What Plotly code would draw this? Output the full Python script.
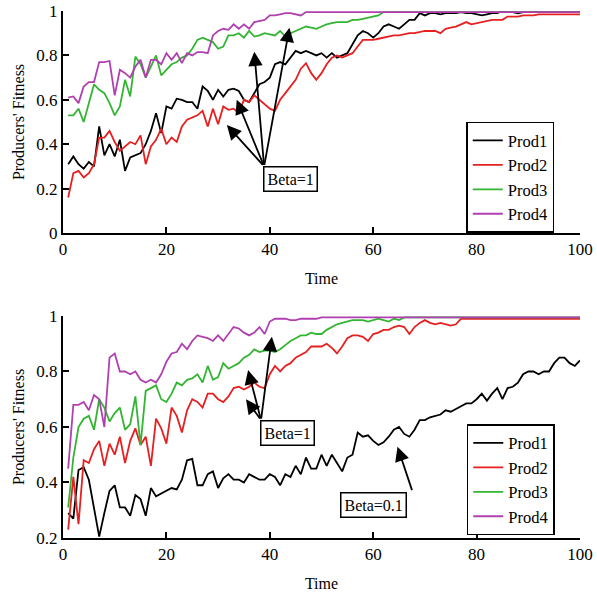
import plotly.graph_objects as go

# Time steps
time = list(range(1, 101))

# ---- Upper panel: Beta = 1 for every producer ----
top_prod1 = [0.31, 0.345, 0.31, 0.29, 0.32, 0.30, 0.48, 0.35, 0.40, 0.345,
             0.42, 0.28, 0.34, 0.35, 0.36, 0.40, 0.46, 0.54, 0.45, 0.57,
             0.56, 0.605, 0.60, 0.59, 0.59, 0.56, 0.66, 0.64, 0.60, 0.645,
             0.615, 0.645, 0.65, 0.64, 0.60, 0.59, 0.63, 0.67, 0.68, 0.70,
             0.76, 0.77, 0.76, 0.79, 0.82, 0.81, 0.82, 0.81, 0.80, 0.81,
             0.79, 0.81, 0.79, 0.80, 0.81, 0.85, 0.89, 0.91, 0.90, 0.88,
             0.90, 0.93, 0.94, 0.93, 0.92, 0.94, 0.96, 0.96, 0.99, 0.98,
             0.99, 0.99, 0.985, 0.99, 0.99, 0.99, 0.995, 0.99, 0.99, 0.985,
             0.98, 0.985, 0.99, 0.99, 1.0, 0.995, 0.995, 0.99, 0.995, 0.995,
             0.995, 0.995, 0.995, 0.995, 0.995, 0.995, 0.995, 0.995, 0.995, 0.995]
top_prod2 = [0.16, 0.27, 0.28, 0.25, 0.27, 0.31, 0.43, 0.43, 0.46, 0.41,
             0.37, 0.39, 0.41, 0.40, 0.44, 0.31, 0.39, 0.42, 0.47, 0.40,
             0.43, 0.41, 0.48, 0.51, 0.52, 0.53, 0.55, 0.48, 0.56, 0.49,
             0.57, 0.555, 0.56, 0.54, 0.60, 0.59, 0.62, 0.60, 0.58, 0.56,
             0.55, 0.60, 0.63, 0.66, 0.69, 0.74, 0.765, 0.72, 0.69, 0.72,
             0.76, 0.79, 0.80, 0.79, 0.80, 0.81, 0.84, 0.87, 0.87, 0.87,
             0.875, 0.88, 0.885, 0.89, 0.89, 0.895, 0.90, 0.90, 0.905, 0.91,
             0.91, 0.91, 0.90, 0.92, 0.925, 0.93, 0.94, 0.95, 0.94, 0.945,
             0.95, 0.955, 0.96, 0.96, 0.96, 0.975, 0.975, 0.975, 0.98, 0.98,
             0.98, 0.985, 0.985, 0.985, 0.985, 0.985, 0.985, 0.985, 0.985, 0.985]
top_prod3 = [0.53, 0.53, 0.56, 0.50, 0.585, 0.67, 0.645, 0.63, 0.585, 0.53,
             0.57, 0.69, 0.615, 0.795, 0.76, 0.70, 0.75, 0.80, 0.71, 0.735,
             0.76, 0.77, 0.79, 0.80, 0.83, 0.87, 0.88, 0.87, 0.86, 0.83,
             0.84, 0.89, 0.89, 0.90, 0.88, 0.91, 0.885, 0.89, 0.90, 0.895,
             0.89, 0.91, 0.885, 0.90, 0.91, 0.92, 0.93, 0.925, 0.92, 0.93,
             0.94, 0.945, 0.95, 0.95, 0.95, 0.96, 0.96, 0.965, 0.97, 0.975,
             0.98, 0.995, 0.995, 0.995, 0.995, 0.995, 0.995, 0.995, 0.995, 0.995,
             0.995, 0.995, 0.995, 0.995, 0.995, 0.995, 0.995, 0.995, 0.995, 0.995,
             0.995, 0.995, 0.995, 0.995, 0.995, 0.995, 0.995, 0.995, 0.995, 0.995,
             0.995, 0.995, 0.995, 0.995, 0.995, 0.995, 0.995, 0.995, 0.995, 0.995]
top_prod4 = [0.61, 0.615, 0.585, 0.66, 0.68, 0.68, 0.77, 0.77, 0.775, 0.62,
             0.735, 0.72, 0.70, 0.75, 0.78, 0.70, 0.78, 0.78, 0.76, 0.81,
             0.78, 0.81, 0.765, 0.81, 0.80, 0.815, 0.815, 0.81, 0.89, 0.91,
             0.92, 0.915, 0.94, 0.92, 0.94, 0.92, 0.95, 0.955, 0.96, 0.98,
             0.98, 0.985, 0.99, 0.99, 0.985, 0.98, 0.995, 0.995, 0.995, 0.995,
             0.995, 0.995, 0.995, 0.995, 0.995, 0.995, 0.995, 0.995, 0.995, 0.995,
             0.995, 0.995, 0.995, 0.995, 0.995, 0.995, 0.995, 0.995, 0.995, 0.995,
             0.995, 0.995, 0.995, 0.995, 0.995, 0.995, 0.995, 0.995, 0.995, 0.995,
             0.995, 0.995, 0.995, 0.995, 0.995, 0.995, 0.995, 0.995, 0.995, 0.995,
             0.995, 0.995, 0.995, 0.995, 0.995, 0.995, 0.995, 0.995, 0.995, 0.995]

# ---- Lower panel: Prod1 with Beta = 0.1, the others with Beta = 1 ----
bot_prod1 = [0.29, 0.27, 0.445, 0.455, 0.41, 0.31, 0.205, 0.29, 0.37, 0.39,
             0.31, 0.31, 0.28, 0.355, 0.34, 0.28, 0.38, 0.35, 0.36, 0.37,
             0.38, 0.375, 0.41, 0.48, 0.485, 0.39, 0.39, 0.43, 0.44, 0.38,
             0.415, 0.43, 0.41, 0.41, 0.40, 0.43, 0.42, 0.41, 0.41, 0.43,
             0.42, 0.39, 0.43, 0.42, 0.46, 0.43, 0.49, 0.45, 0.45, 0.50,
             0.46, 0.50, 0.47, 0.44, 0.49, 0.50, 0.58, 0.565, 0.57, 0.55,
             0.535, 0.545, 0.565, 0.59, 0.60, 0.575, 0.565, 0.59, 0.625, 0.625,
             0.635, 0.64, 0.645, 0.66, 0.655, 0.665, 0.675, 0.685, 0.685, 0.70,
             0.72, 0.695, 0.72, 0.74, 0.70, 0.74, 0.745, 0.76, 0.79, 0.80,
             0.80, 0.79, 0.80, 0.80, 0.83, 0.85, 0.85, 0.83, 0.82, 0.84]
bot_prod2 = [0.23, 0.42, 0.25, 0.48, 0.47, 0.52, 0.55, 0.46, 0.54, 0.50,
             0.565, 0.47, 0.55, 0.595, 0.535, 0.565, 0.46, 0.63, 0.595, 0.54,
             0.67, 0.64, 0.58, 0.66, 0.70, 0.69, 0.67, 0.72, 0.72, 0.70,
             0.69, 0.71, 0.74, 0.745, 0.735, 0.745, 0.76, 0.745, 0.74, 0.79,
             0.82, 0.80, 0.82, 0.83, 0.85, 0.86, 0.87, 0.89, 0.89, 0.89,
             0.90, 0.885, 0.865, 0.89, 0.92, 0.93, 0.93, 0.925, 0.91, 0.935,
             0.94, 0.95, 0.95, 0.96, 0.965, 0.96, 0.935, 0.96, 0.975, 0.985,
             0.975, 0.97, 0.975, 0.97, 0.965, 0.97, 0.99, 0.99, 0.99, 0.99,
             0.99, 0.99, 0.99, 0.99, 0.99, 0.99, 0.99, 0.99, 0.99, 0.99,
             0.99, 0.99, 0.99, 0.99, 0.99, 0.99, 0.99, 0.99, 0.99, 0.99]
bot_prod3 = [0.31, 0.49, 0.60, 0.63, 0.64, 0.59, 0.70, 0.67, 0.62, 0.65,
             0.67, 0.59, 0.61, 0.71, 0.535, 0.73, 0.74, 0.75, 0.70, 0.69,
             0.72, 0.76, 0.75, 0.77, 0.775, 0.79, 0.76, 0.82, 0.77, 0.78,
             0.83, 0.81, 0.82, 0.83, 0.85, 0.86, 0.88, 0.87, 0.875, 0.875,
             0.87, 0.88, 0.895, 0.91, 0.92, 0.93, 0.93, 0.94, 0.935, 0.935,
             0.95, 0.96, 0.97, 0.975, 0.98, 0.985, 0.985, 0.985, 0.98, 0.985,
             0.99, 0.985, 0.98, 0.99, 0.985, 0.995, 0.995, 0.995, 0.995, 0.995,
             0.995, 0.995, 0.995, 0.995, 0.995, 0.995, 0.995, 0.995, 0.995, 0.995,
             0.995, 0.995, 0.995, 0.995, 0.995, 0.995, 0.995, 0.995, 0.995, 0.995,
             0.995, 0.995, 0.995, 0.995, 0.995, 0.995, 0.995, 0.995, 0.995, 0.995]
bot_prod4 = [0.45, 0.68, 0.68, 0.69, 0.66, 0.715, 0.70, 0.60, 0.85, 0.865,
             0.80, 0.80, 0.79, 0.80, 0.77, 0.76, 0.77, 0.76, 0.79, 0.835,
             0.865, 0.87, 0.90, 0.88, 0.91, 0.93, 0.925, 0.92, 0.91, 0.93,
             0.91, 0.935, 0.96, 0.955, 0.94, 0.93, 0.94, 0.96, 0.935, 0.98,
             0.99, 0.99, 0.99, 0.985, 0.985, 0.99, 0.99, 0.99, 0.99, 0.995,
             0.995, 0.995, 0.995, 0.995, 0.995, 0.995, 0.995, 0.995, 0.995, 0.995,
             0.995, 0.995, 0.995, 0.995, 0.995, 0.995, 0.995, 0.995, 0.995, 0.995,
             0.995, 0.995, 0.995, 0.995, 0.995, 0.995, 0.995, 0.995, 0.995, 0.995,
             0.995, 0.995, 0.995, 0.995, 0.995, 0.995, 0.995, 0.995, 0.995, 0.995,
             0.995, 0.995, 0.995, 0.995, 0.995, 0.995, 0.995, 0.995, 0.995, 0.995]

names = ["Prod1", "Prod2", "Prod3", "Prod4"]
colors = ["#000000", "#e62020", "#33b533", "#b040b0"]
x_ticks = [0, 20, 40, 60, 80, 100]
top_y_ticks = [0, 0.2, 0.4, 0.6, 0.8, 1]
bot_y_ticks = [0.2, 0.4, 0.6, 0.8, 1]

FONT = "Liberation Serif"

fig = go.Figure()

for name, color, ys in zip(names, colors, [top_prod1, top_prod2, top_prod3, top_prod4]):
    fig.add_trace(go.Scatter(x=time, y=ys, mode="lines", name=name,
                             line=dict(color=color, width=1.8),
                             xaxis="x", yaxis="y", legend="legend"))

for name, color, ys in zip(names, colors, [bot_prod1, bot_prod2, bot_prod3, bot_prod4]):
    fig.add_trace(go.Scatter(x=time, y=ys, mode="lines", name=name,
                             line=dict(color=color, width=1.8),
                             xaxis="x2", yaxis="y2", legend="legend2"))

axis_common = dict(showline=True, linecolor="black", linewidth=2,
                   ticks="inside", ticklen=6, tickwidth=2, tickcolor="black",
                   showgrid=False, zeroline=False, mirror=False, automargin=False,
                   tickfont=dict(family=FONT, size=17, color="black"))

title_font = dict(family=FONT, size=16, color="black")

fig.update_layout(
    width=597, height=592,
    margin=dict(l=63, r=17, t=11, b=54, autoexpand=False),
    paper_bgcolor="white", plot_bgcolor="white",
    font=dict(family=FONT, size=16, color="black"),
    xaxis=dict(domain=[0, 1], anchor="y", range=[0, 100], tickvals=x_ticks,
               title=dict(text="Time", standoff=14, font=title_font),
               **axis_common),
    yaxis=dict(domain=[0.5787, 1], anchor="x", range=[0, 1], tickvals=top_y_ticks,
               ticktext=["0", "0.2", "0.4", "0.6", "0.8", "1"],
               title=dict(text="Producers' Fitness", standoff=8, font=title_font),
               **axis_common),
    xaxis2=dict(domain=[0, 1], anchor="y2", range=[0, 100], tickvals=x_ticks,
                title=dict(text="Time", standoff=14, font=title_font),
                **axis_common),
    yaxis2=dict(domain=[0, 0.4213], anchor="x2", range=[0.2, 1], tickvals=bot_y_ticks,
                ticktext=["0.2", "0.4", "0.6", "0.8", "1"],
                title=dict(text="Producers' Fitness", standoff=8, font=title_font),
                **axis_common),
    legend=dict(x=0.78, y=0.79, xanchor="left", yanchor="top",
                bgcolor="white", bordercolor="black", borderwidth=1.5,
                font=dict(family=FONT, size=16.5, color="black"), itemwidth=30,
                tracegroupgap=0),
    legend2=dict(x=0.781, y=0.216, xanchor="left", yanchor="top",
                 bgcolor="white", bordercolor="black", borderwidth=1.5,
                 font=dict(family=FONT, size=16.5, color="black"), itemwidth=30,
                 tracegroupgap=0),
    showlegend=True,
)

# Arrows pointing from each "Beta" label to the curves it describes
arrow_style = dict(showarrow=True, arrowhead=2, arrowsize=1.6, arrowwidth=1.8,
                   arrowcolor="black", text="")

top_tail = (38.9, 0.30)
top_heads = [(31.7, 0.486), (33.6, 0.60), (37.0, 0.817), (43.8, 0.925)]
for hx, hy in top_heads:
    fig.add_annotation(x=hx, y=hy, ax=top_tail[0], ay=top_tail[1],
                       xref="x", yref="y", axref="x", ayref="y", **arrow_style)

bot_tail = (38.3, 0.625)
bot_heads = [(35.4, 0.70), (35.8, 0.805), (40.4, 0.925)]
for hx, hy in bot_heads:
    fig.add_annotation(x=hx, y=hy, ax=bot_tail[0], ay=bot_tail[1],
                       xref="x2", yref="y2", axref="x2", ayref="y2", **arrow_style)

fig.add_annotation(x=64.7, y=0.529, ax=67.6, ay=0.367,
                   xref="x2", yref="y2", axref="x2", ayref="y2", **arrow_style)

box_style = dict(showarrow=False, bgcolor="white", bordercolor="black",
                 borderwidth=1.5, borderpad=3,
                 font=dict(family=FONT, size=16, color="black"),
                 xanchor="left", yanchor="top")

fig.add_annotation(x=38.7, y=0.30, xref="x", yref="y", text="Beta=1", **box_style)
fig.add_annotation(x=38.1, y=0.625, xref="x2", yref="y2", text="Beta=1", **box_style)
fig.add_annotation(x=53.6, y=0.367, xref="x2", yref="y2", text="Beta=0.1", **box_style)

fig.write_html("out.html")
